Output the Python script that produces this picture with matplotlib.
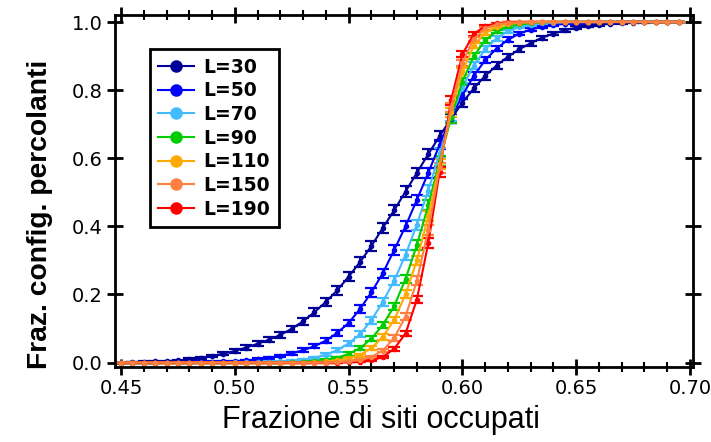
import numpy as np
import matplotlib
matplotlib.use('Agg')
import matplotlib.pyplot as plt
from matplotlib.lines import Line2D

# frazione di siti occupati (passo 0.005)
p = np.round(np.linspace(0.45, 0.695, 50), 3)

L30 = [0.000, 0.001, 0.002, 0.003, 0.004, 0.006, 0.009, 0.013, 0.019, 0.026,
       0.034, 0.044, 0.055, 0.067, 0.081, 0.099, 0.121, 0.148, 0.178, 0.212,
       0.252, 0.295, 0.342, 0.395, 0.447, 0.502, 0.557, 0.612, 0.665, 0.716,
       0.763, 0.805, 0.842, 0.872, 0.898, 0.920, 0.938, 0.954, 0.966, 0.976,
       0.983, 0.988, 0.992, 0.995, 0.997, 0.998, 0.999, 1.000, 1.000, 1.000]
L50 = [0.000, 0.000, 0.000, 0.000, 0.001, 0.001, 0.001, 0.002, 0.002, 0.003,
       0.004, 0.006, 0.009, 0.013, 0.019, 0.027, 0.036, 0.048, 0.064, 0.087,
       0.116, 0.157, 0.206, 0.262, 0.330, 0.400, 0.478, 0.557, 0.640, 0.718,
       0.785, 0.842, 0.888, 0.922, 0.948, 0.966, 0.978, 0.986, 0.991, 0.995,
       0.997, 0.998, 0.999, 1.000, 1.000, 1.000, 1.000, 1.000, 1.000, 1.000]
L70 = [0.000, 0.000, 0.000, 0.000, 0.000, 0.000, 0.000, 0.000, 0.000, 0.000,
       0.001, 0.001, 0.001, 0.002, 0.003, 0.005, 0.008, 0.014, 0.023, 0.036,
       0.056, 0.083, 0.124, 0.178, 0.240, 0.316, 0.405, 0.505, 0.615, 0.722,
       0.808, 0.872, 0.920, 0.952, 0.973, 0.985, 0.992, 0.996, 0.998, 0.999,
       1.000, 1.000, 1.000, 1.000, 1.000, 1.000, 1.000, 1.000, 1.000, 1.000]
L90 = [0.000, 0.000, 0.000, 0.000, 0.000, 0.000, 0.000, 0.000, 0.000, 0.000,
       0.000, 0.000, 0.000, 0.000, 0.000, 0.001, 0.002, 0.004, 0.008, 0.014,
       0.025, 0.042, 0.070, 0.110, 0.165, 0.245, 0.345, 0.462, 0.592, 0.718,
       0.825, 0.900, 0.946, 0.973, 0.987, 0.994, 0.997, 0.999, 1.000, 1.000,
       1.000, 1.000, 1.000, 1.000, 1.000, 1.000, 1.000, 1.000, 1.000, 1.000]
L110 = [0.000, 0.000, 0.000, 0.000, 0.000, 0.000, 0.000, 0.000, 0.000, 0.000,
        0.000, 0.000, 0.000, 0.000, 0.000, 0.000, 0.000, 0.001, 0.003, 0.006,
        0.012, 0.022, 0.042, 0.075, 0.125, 0.200, 0.300, 0.430, 0.582, 0.735,
        0.855, 0.930, 0.968, 0.986, 0.994, 0.998, 0.999, 1.000, 1.000, 1.000,
        1.000, 1.000, 1.000, 1.000, 1.000, 1.000, 1.000, 1.000, 1.000, 1.000]
L150 = [0.000, 0.000, 0.000, 0.000, 0.000, 0.000, 0.000, 0.000, 0.000, 0.000,
        0.000, 0.000, 0.000, 0.000, 0.000, 0.000, 0.000, 0.000, 0.000, 0.001,
        0.003, 0.007, 0.016, 0.035, 0.072, 0.135, 0.240, 0.390, 0.572, 0.750,
        0.880, 0.950, 0.981, 0.993, 0.998, 0.999, 1.000, 1.000, 1.000, 1.000,
        1.000, 1.000, 1.000, 1.000, 1.000, 1.000, 1.000, 1.000, 1.000, 1.000]
L190 = [0.000, 0.000, 0.000, 0.000, 0.000, 0.000, 0.000, 0.000, 0.000, 0.000,
        0.000, 0.000, 0.000, 0.000, 0.000, 0.000, 0.000, 0.000, 0.000, 0.000,
        0.001, 0.002, 0.006, 0.016, 0.040, 0.085, 0.185, 0.350, 0.560, 0.770,
        0.905, 0.965, 0.988, 0.996, 0.999, 1.000, 1.000, 1.000, 1.000, 1.000,
        1.000, 1.000, 1.000, 1.000, 1.000, 1.000, 1.000, 1.000, 1.000, 1.000]

labels = ['L=30', 'L=50', 'L=70', 'L=90', 'L=110', 'L=150', 'L=190']
serie = [L30, L50, L70, L90, L110, L150, L190]
colori = ['#000099', '#0000FF', '#44BBFF', '#00CC00', '#FFAA00', '#FF8040', '#FF0000']
# ordine di disegno: L=150 sopra a tutte
ordine = [0, 1, 2, 3, 4, 6, 5]

fig = plt.figure(figsize=(7.11, 4.42), dpi=100)
ax = fig.add_axes([115/711, 1-366.7/442, 578/711, 351.7/442])

for k in ordine:
    y = np.array(serie[k])
    err = 0.03*np.sqrt(y*(1-y))  # errore binomiale stimato
    ax.errorbar(p, y, yerr=err, color=colori[k], lw=1.5, marker='o', ms=3,
                capsize=4.5, capthick=1.6, elinewidth=1.5)

ax.set_xlim(0.44736, 0.70132)
ax.set_ylim(-0.0123, 1.0206)
ax.set_xticks(np.arange(0.45, 0.701, 0.05))
ax.set_xticks(np.arange(0.45, 0.701, 0.01), minor=True)
ax.set_yticks(np.arange(0, 1.01, 0.2))
ax.set_xticklabels(['0.45', '0.50', '0.55', '0.60', '0.65', '0.70'])
ax.set_yticklabels(['0.0', '0.2', '0.4', '0.6', '0.8', '1.0'])
ax.tick_params(which='major', direction='inout', length=12, width=2,
               top=True, right=True, labelsize=14, pad=3)
ax.tick_params(which='minor', direction='inout', length=7, width=1.5,
               top=True, right=False, left=False)
for lab in ax.get_xticklabels() + ax.get_yticklabels():
    lab.set_family('DejaVu Sans')
for s in ax.spines.values():
    s.set_linewidth(2)

ax.set_xlabel('Frazione di siti occupati', fontsize=22, family='Liberation Sans')
ax.xaxis.set_label_coords(0.46, -0.11)
ax.set_ylabel('Fraz. config. percolanti', fontsize=20.3, family='Liberation Sans',
              fontweight='bold')
ax.yaxis.set_label_coords(-0.107, 0.434)

maniglie = [Line2D([0], [0], color=c, lw=1.5, marker='o', ms=8) for c in colori]
leg = ax.legend(maniglie, labels, loc='upper left', bbox_to_anchor=(0.0606, 0.903),
                borderaxespad=0, fancybox=False, framealpha=1, edgecolor='black',
                handlelength=1.9, handletextpad=0.5, labelspacing=0.25, borderpad=0.45,
                prop={'family': 'DejaVu Sans', 'weight': 'bold', 'size': 13.5})
leg.get_frame().set_linewidth(2)

fig.savefig('out.png', dpi=100)
